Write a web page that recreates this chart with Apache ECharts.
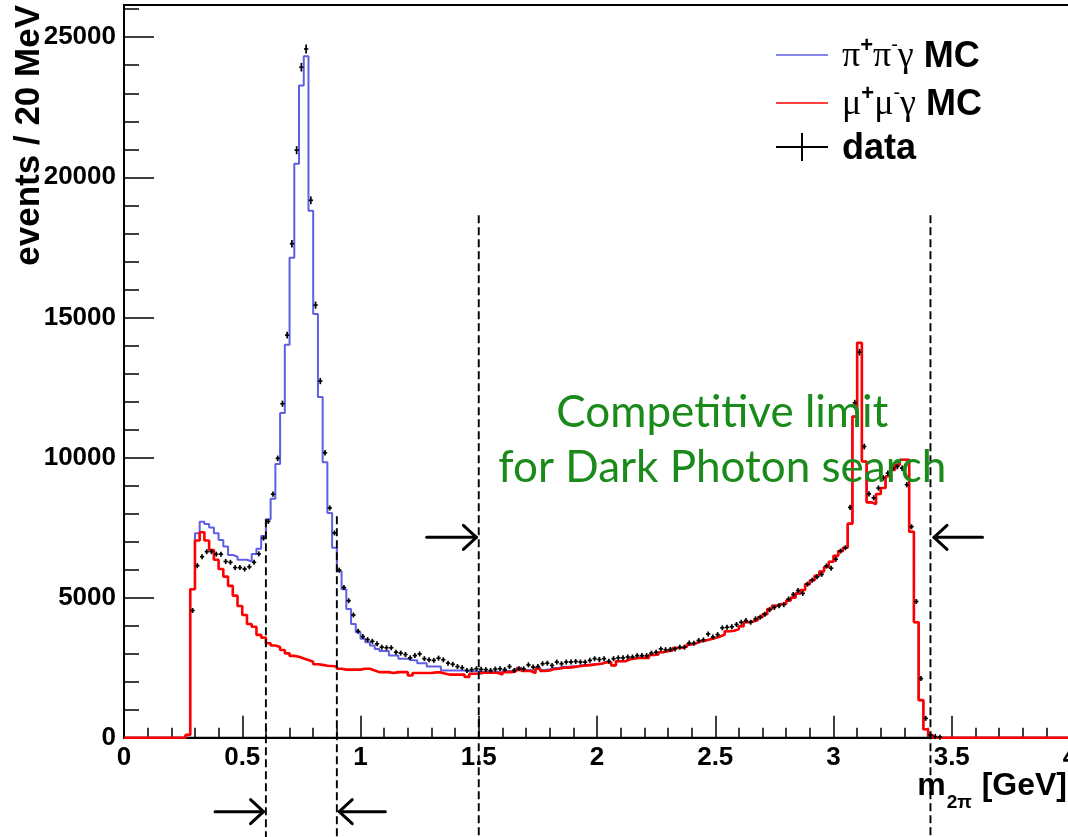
<!DOCTYPE html>
<html>
<head>
<meta charset="utf-8">
<title>m2pi spectrum</title>
<script src="https://cdn.jsdelivr.net/npm/echarts@6/dist/echarts.min.js"></script>
<style>
  html, body { margin: 0; padding: 0; background: #fff; }
  #chart { width: 1068px; height: 837px; }
</style>
</head>
<body>
<div id="chart"></div>
<script>
// histogram binning: 20 MeV bins, listed from 0.26 GeV up to 3.46 GeV
const BIN_W = 0.02;
const FIRST_EDGE = 0.26;
const X_MAX = 4;
const Y_MAX = 26150;

// mu+mu-gamma MC (red)
const mumuMC = [
  100, 5300, 7040, 7330, 7040, 6700, 6350, 6020, 5750, 5420,
  5070, 4700, 4380, 4060, 3960, 3670, 3570, 3370, 3290, 3240,
  3130, 3010, 2920, 2890, 2830, 2770, 2710, 2620, 2600, 2570,
  2560, 2540, 2460, 2430, 2430, 2430, 2430, 2460, 2460, 2400,
  2340, 2340, 2340, 2310, 2340, 2340, 2340, 2220, 2310, 2310,
  2310, 2310, 2330, 2330, 2280, 2250, 2250, 2250, 2250, 2170,
  2280, 2280, 2320, 2320, 2320, 2320, 2250, 2340, 2340, 2380,
  2460, 2380, 2380, 2310, 2460, 2380, 2400, 2450, 2460, 2500,
  2500, 2520, 2540, 2570, 2580, 2600, 2620, 2640, 2690, 2690,
  2580, 2730, 2730, 2800, 2830, 2850, 2850, 2850, 2950, 2970,
  3050, 3090, 3110, 3200, 3210, 3250, 3330, 3370, 3440, 3470,
  3510, 3560, 3610, 3680, 3800, 3820, 3880, 3980, 4120, 4150,
  4200, 4300, 4410, 4590, 4710, 4770, 4780, 4900, 5000, 5150,
  5270, 5480, 5620, 5780, 5930, 6090, 6280, 6490, 6660, 6780,
  7640, 11460, 14090, 9860, 8400, 8340, 8700, 8910, 9330, 9560,
  9740, 9920, 9920, 7350, 4120, 1340, 300, 90, 0, 0
];

// pi+pi-gamma MC (blue)
const pipiMC = [
  100, 5300, 7300, 7710, 7630, 7500, 7300, 7060, 6820, 6520,
  6460, 6350, 6350, 6290, 6560, 6740, 7200, 7800, 8530, 9770,
  11590, 14020, 17130, 20480, 23280, 24320, 18810, 15120, 12160, 9830,
  8020, 6780, 5940, 5300, 4590, 4060, 3760, 3530, 3410, 3290,
  3170, 3090, 3090, 2930, 2930, 2820, 2820, 2760, 2760, 2660,
  2660, 2540, 2540, 2540, 2400, 2400, 2400, 2400, 2400, 2370,
  2370, 2370, 2350, 2350, 2360, 2360, 2300, 2380, 2380, 2420,
  2500, 2420, 2420, 2360, 2500, 2420, 2440, 2490, 2500, 2530,
  2530, 2550, 2560, 2590, 2600, 2610, 2630, 2650, 2700, 2700,
  2590, 2730, 2730, 2800, 2830, 2850, 2850, 2850, 2950, 2970,
  3050, 3090, 3110, 3200, 3210, 3250, 3330, 3370, 3440, 3470,
  3510, 3560, 3610, 3680, 3800, 3820, 3880, 3980, 4120, 4150,
  4200, 4300, 4410, 4590, 4710, 4770, 4780, 4900, 5000, 5150,
  5270, 5480, 5620, 5780, 5930, 6090, 6280, 6490, 6660, 6780,
  7640, 11460, 14090, 9860, 8400, 8340, 8700, 8910, 9330, 9560,
  9740, 9920, 9920, 7350, 4120, 1340, 300, 90, 0, 0
];

// data (events per bin, null = empty bin)
const dataCounts = [
  null, 4540, 6140, 6460, 6640, 6640, 6550, 6550, 6290, 6260,
  6070, 6070, 6020, 6100, 6260, 6560, 7120, 7720, 8690, 9970,
  11920, 14370, 17630, 20970, 23930, 24580, 19180, 15440, 12730, 10170,
  8200, 7310, 5980, 5360, 4890, 4380, 3800, 3610, 3500, 3440,
  3350, 3230, 3210, 3210, 3050, 3020, 2970, 2850, 2930, 2990,
  2820, 2780, 2760, 2840, 2780, 2660, 2620, 2540, 2500, 2400,
  2430, 2460, 2440, 2430, 2400, 2450, 2460, 2430, 2540, 2400,
  2460, 2460, 2600, 2520, 2540, 2640, 2660, 2580, 2700, 2640,
  2700, 2700, 2720, 2700, 2700, 2760, 2820, 2790, 2820, 2730,
  2820, 2850, 2850, 2880, 2880, 2930, 2930, 2930, 3020, 3050,
  3170, 3140, 3150, 3170, 3230, 3230, 3380, 3370, 3470, 3490,
  3700, 3590, 3680, 3920, 3940, 3960, 4040, 4120, 4180, 4120,
  4240, 4300, 4410, 4570, 4650, 4710, 4750, 4950, 5110, 5250,
  5150, 5480, 5620, 5740, 5830, 6130, 6050, 6370, 6660, 6780,
  8220, 11950, 13760, 10390, 8700, 8560, 8910, 9270, 9440, 9620,
  9680, 9620, 9030, 7530, 4860, 2110, 690, 100, 40, 20
];

// annotations, in axis units
const cutLines = [
  { x: 0.6, top: 7800 },
  { x: 0.9, top: 7900 },
  { x: 1.5, top: 18650 },
  { x: 3.41, top: 18650 }
];
const arrows = [
  { from: [1.28, 7150], to: [1.49, 7150] },
  { from: [3.63, 7150], to: [3.425, 7150] },
  { from: [0.385, -2640], to: [0.59, -2640] },
  { from: [1.105, -2640], to: [0.91, -2640] }
];
const noteLines = ['Competitive limit', 'for Dark Photon search'];
const noteAnchors = [[2.53, 11600], [2.53, 9620]];

const chart = echarts.init(document.getElementById('chart'));

const binEdge = i => +(FIRST_EDGE + i * BIN_W).toFixed(3);

// step line points: lower bin edges, closed at both ends with the empty range
function histPoints(vals) {
  const pts = [[0, 0]];
  vals.forEach((v, i) => pts.push([binEdge(i), v]));
  pts.push([binEdge(vals.length), 0]);
  pts.push([X_MAX, 0]);
  return pts;
}

const dataPoints = [];
dataCounts.forEach((v, i) => {
  if (v !== null) dataPoints.push([binEdge(i) + BIN_W / 2, v]);
});

const HELV = 'Liberation Sans';
const bold = { fontFamily: HELV, fontWeight: 'bold', color: '#000' };
const legendLabels = {
  pipi: '{g|π}{sp|+}{g|π}{sm|-}{g|γ}{b| MC}',
  mumu: '{g|μ}{sp|+}{g|μ}{sm|-}{g|γ}{b| MC}',
  data: '{b|data}'
};
const lineIcon = 'path://M0,13.2h52v1.6h-52z';

const option = {
  animation: false,
  backgroundColor: '#fff',
  grid: {
    left: 124, top: 5, width: 946, height: 732.7,
    show: true, borderColor: '#000', borderWidth: 2,
    outerBoundsMode: 'none', containLabel: false
  },
  legend: {
    orient: 'vertical', left: 771, top: 30,
    itemWidth: 52, itemHeight: 28, itemGap: 8,
    textStyle: {
      padding: [0, 0, 0, 9],
      rich: {
        g: { fontFamily: 'Liberation Serif', fontSize: 36, color: '#000', lineHeight: 40, verticalAlign: 'bottom' },
        sp: { ...bold, fontSize: 22, lineHeight: 22, verticalAlign: 'top' },
        sm: { fontFamily: HELV, fontSize: 20, color: '#000', lineHeight: 20, verticalAlign: 'top' },
        b: { ...bold, fontSize: 36, lineHeight: 40, verticalAlign: 'bottom' }
      }
    },
    formatter: name => legendLabels[name],
    data: [
      { name: 'pipi', icon: lineIcon },
      { name: 'mumu', icon: lineIcon },
      { name: 'data', icon: 'path://M0,13h52v2h-52zM25,0h2v28h-2z' }
    ]
  },
  xAxis: [{
    type: 'value', min: 0, max: X_MAX, interval: 0.5,
    axisLine: { show: true, onZero: false, lineStyle: { color: '#000', width: 2 } },
    axisTick: { show: true, inside: true, length: 22, lineStyle: { color: '#000', width: 1.5 } },
    minorTick: { show: true, splitNumber: 5, length: 10, lineStyle: { color: '#000', width: 1.5 } },
    splitLine: { show: false },
    axisLabel: { ...bold, fontSize: 26, margin: 7 },
    name: '{m|m}{s|2π}{m| [GeV]}',
    nameLocation: 'end', nameGap: -3, nameMoveOverlap: false,
    nameTextStyle: {
      align: 'right', verticalAlign: 'top', padding: [32, 0, 0, 0],
      rich: {
        m: { ...bold, fontSize: 32, lineHeight: 34, verticalAlign: 'top' },
        s: { ...bold, fontSize: 19, lineHeight: 19, padding: [24, 1, 0, 1], verticalAlign: 'top' }
      }
    }
  }],
  yAxis: [{
    type: 'value', min: 0, max: Y_MAX, interval: 5000,
    axisLine: { show: true, onZero: false, lineStyle: { color: '#000', width: 2 } },
    axisTick: { show: true, inside: true, length: 30, lineStyle: { color: '#000', width: 1.5 } },
    splitLine: { show: false },
    axisLabel: { ...bold, fontSize: 26, margin: 8, showMaxLabel: false, formatter: v => String(v) },
    name: 'events / 20 MeV',
    nameLocation: 'end', nameRotate: 90, nameGap: 0, nameMoveOverlap: false,
    nameTextStyle: {
      ...bold, fontSize: 35,
      align: 'right', verticalAlign: 'bottom', padding: [0, 0, 77, 0]
    }
  }, {
    type: 'value', min: 0, max: Y_MAX, interval: 1000, position: 'left',
    axisLine: { show: false },
    axisTick: { show: true, inside: true, length: 15, lineStyle: { color: '#000', width: 1.5 } },
    axisLabel: { show: false },
    splitLine: { show: false }
  }],
  series: [
    {
      name: 'pipi', type: 'line', step: 'end', symbol: 'none', clip: false,
      color: '#5f5fe3', lineStyle: { color: '#5f5fe3', width: 2 },
      data: histPoints(pipiMC), z: 2
    },
    {
      name: 'mumu', type: 'line', step: 'end', symbol: 'none', clip: false,
      color: '#ff0000', lineStyle: { color: '#ff0000', width: 2.6 },
      data: histPoints(mumuMC), z: 3
    },
    {
      name: 'data', type: 'custom', z: 4,
      itemStyle: { color: '#000' },
      encode: { x: 0, y: 1 },
      data: dataPoints,
      renderItem(params, api) {
        const v = api.value(1);
        const c = api.coord([api.value(0), v]);
        const sz = api.size([BIN_W, Math.sqrt(v)]);
        const hw = sz[0] * 0.45;
        const he = Math.max(sz[1], 2.5);
        const st = { stroke: '#000', lineWidth: 1.7 };
        return {
          type: 'group',
          children: [
            { type: 'line', shape: { x1: c[0] - hw, y1: c[1], x2: c[0] + hw, y2: c[1] }, style: st },
            { type: 'line', shape: { x1: c[0], y1: c[1] - he, x2: c[0], y2: c[1] + he }, style: st }
          ]
        };
      }
    }
  ]
};

chart.setOption(option);

// overlay annotations placed through the grid's own scales
const toPx = p => chart.convertToPixel({ gridIndex: 0 }, p);
const bottomPx = chart.getHeight();
const graphics = [];

cutLines.forEach(c => {
  const top = toPx([c.x, c.top]);
  graphics.push({
    type: 'line', z: 10,
    shape: { x1: top[0], y1: top[1], x2: top[0], y2: bottomPx },
    style: { stroke: '#000', lineWidth: 1.9, lineDash: [8, 4] }
  });
});

arrows.forEach(a => {
  const p0 = toPx(a.from), p1 = toPx(a.to);
  const dir = p1[0] > p0[0] ? 1 : -1;
  const st = { stroke: '#000', lineWidth: 3, lineCap: 'round', lineJoin: 'round', fill: null };
  graphics.push({ type: 'line', z: 10, shape: { x1: p0[0], y1: p0[1], x2: p1[0], y2: p1[1] }, style: st });
  graphics.push({
    type: 'polyline', z: 10,
    shape: { points: [[p1[0] - dir * 13, p1[1] - 12], [p1[0], p1[1]], [p1[0] - dir * 13, p1[1] + 12]] },
    style: st
  });
});

noteLines.forEach((t, i) => {
  const p = toPx(noteAnchors[i]);
  graphics.push({
    type: 'text', z: 10, x: p[0], y: p[1],
    style: {
      text: t, fill: '#1a8a1a', fontFamily: 'Lato', fontSize: 44,
      align: 'center', verticalAlign: 'middle'
    }
  });
});

chart.setOption({ graphic: graphics });
</script>
</body>
</html>
